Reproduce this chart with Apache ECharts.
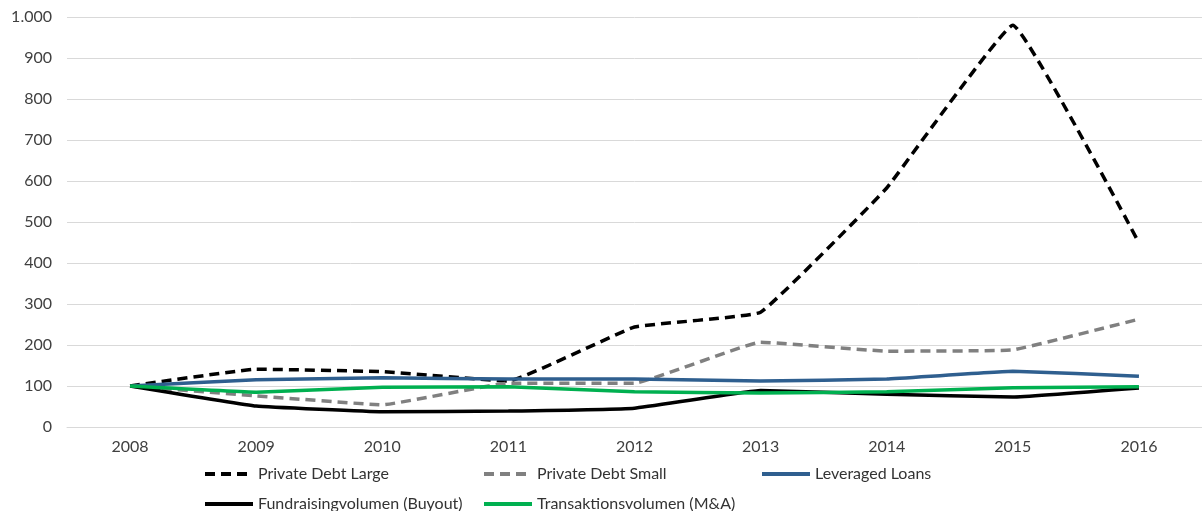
<!DOCTYPE html>
<html>
<head>
<meta charset="utf-8">
<script src="https://cdn.jsdelivr.net/npm/echarts@6/dist/echarts.min.js"></script>
<style>
html,body{margin:0;padding:0;background:#fff;}
#chart{width:1202px;height:511px;}
</style>
</head>
<body>
<div id="chart"></div>
<script>
const years = ['2008','2009','2010','2011','2012','2013','2014','2015','2016'];
const privateDebtLarge = [100, 141, 135, 112, 244, 280, 583, 980, 449];
const privateDebtSmall = [100, 76, 54, 107, 107, 207, 185, 188, 263];
const leveragedLoans = [100, 115, 120, 117, 117, 112, 117, 136, 124];
const fundraising = [100, 51, 37, 39, 46, 89, 80, 73, 95];
const transaktionen = [100, 85, 97, 98, 86, 83, 86, 96, 98];
const names = ['Private Debt Large','Private Debt Small','Leveraged Loans','Fundraisingvolumen (Buyout)','Transaktionsvolumen (M&A)'];

const FONT = 'Lato';
const chart = echarts.init(document.getElementById('chart'), null, {renderer:'canvas'});

function legend(name, left, top){
  return {
    show:true,
    data:[name], left:left, top:top, itemWidth:48, itemHeight:14, itemGap:0,
    padding:0, orient:'horizontal',
    itemStyle:{opacity:0},
    lineStyle:{width:4},
    textStyle:{fontFamily:FONT, fontSize:16, color:'#333333'}
  };
}

function s(name, data, color, type, width){
  return {
    name:name, type:'line', data:data, smooth:0.08, symbol:'none',
    lineStyle:{color:color, width:width, type:type, cap:'butt'},
    itemStyle:{color:color},
    emphasis:{disabled:true}
  };
}

const option = {
  animation:false,
  grid:{left:67, right:0, top:17, bottom:84, containLabel:false},
  legend:[
    legend(names[0], 203, 466),
    legend(names[1], 482, 466),
    legend(names[2], 760, 466),
    legend(names[3], 203, 496),
    legend(names[4], 482, 496)
  ],
  xAxis:{
    type:'category', data:years, boundaryGap:true,
    axisLine:{show:true, lineStyle:{color:'#d9d9d9', width:1}},
    axisTick:{show:false},
    axisLabel:{fontFamily:FONT, fontSize:16, color:'#404040', margin:12}
  },
  yAxis:{
    type:'value', min:0, max:1000, interval:100,
    axisLine:{show:false}, axisTick:{show:false},
    splitLine:{lineStyle:{color:'#d9d9d9', width:1}},
    axisLabel:{fontFamily:FONT, fontSize:16, color:'#404040', margin:15,
      formatter:function(v){ return v.toLocaleString('de-DE'); }}
  },
  series:[
    s(names[0], privateDebtLarge, '#000000', [10,6], 3.5),
    s(names[1], privateDebtSmall, '#808080', [10,6], 3.5),
    s(names[2], leveragedLoans, '#2f5f8f', 'solid', 3.5),
    s(names[3], fundraising, '#000000', 'solid', 3.5),
    s(names[4], transaktionen, '#00b050', 'solid', 3.5)
  ]
};
chart.setOption(option);
</script>
</body>
</html>
